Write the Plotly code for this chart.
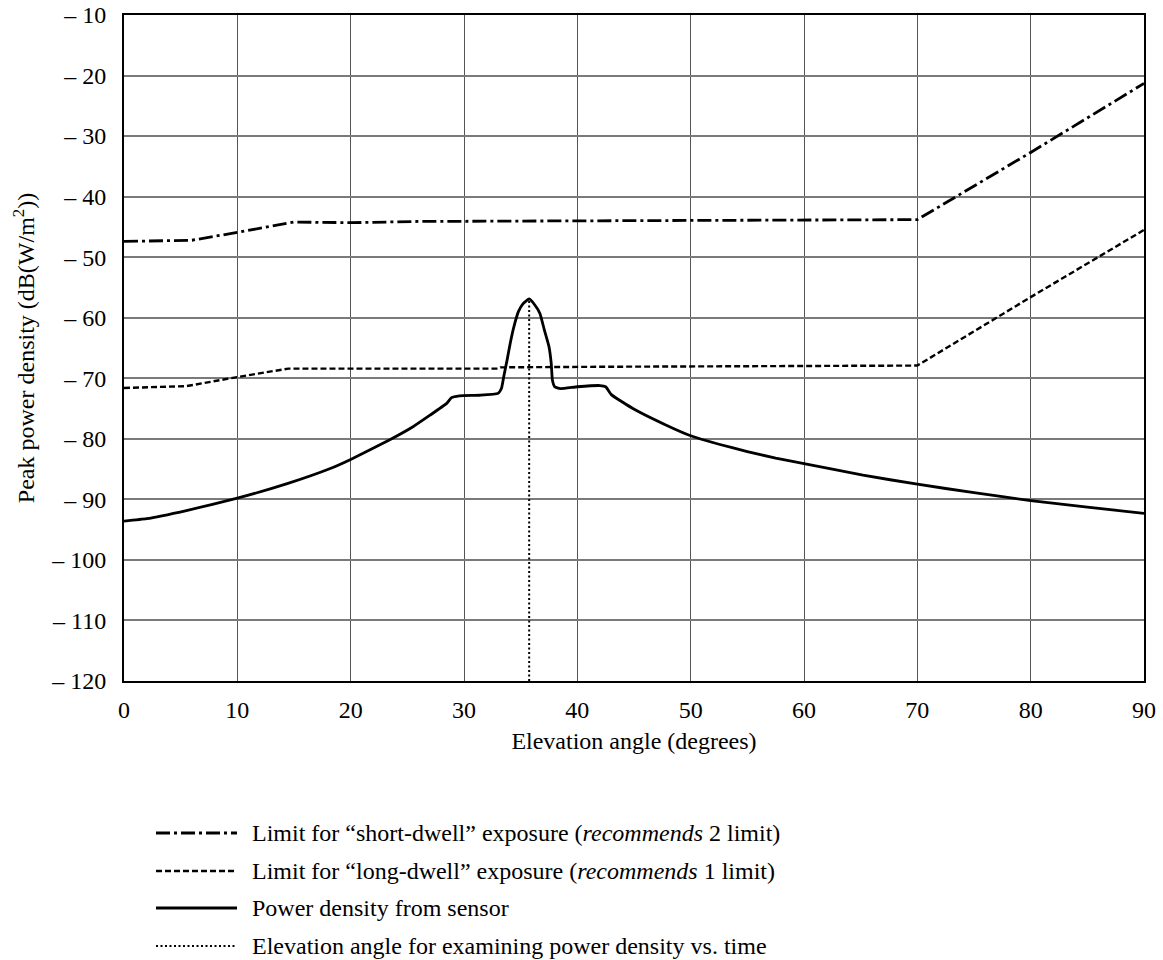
import plotly.graph_objects as go

# ---- data ----
short_x = [0, 6, 10, 15, 20, 26, 40, 55, 70, 80, 90]
short_y = [-47.4, -47.2, -45.9, -44.2, -44.3, -44.1, -44.0, -43.9, -43.8, -32.7, -21.3]

long_x = [0, 5.5, 10, 14.5, 33.0, 33.2, 42, 62, 70, 80, 90]
long_y = [-71.6, -71.3, -69.8, -68.4, -68.4, -68.2, -68.1, -68.0, -67.9, -56.6, -45.5]

sensor_x = [0, 2, 5.6, 10, 14.4, 18.2, 20, 23.5, 25.5, 27.0, 28.5, 28.9, 29.6, 31.4, 33.0,
            33.3, 33.5, 33.8, 34.1, 34.4, 34.8, 35.2, 35.75, 36.25, 36.7, 37.1, 37.5, 37.7,
            37.8, 38.0, 38.5, 40.0, 42.0, 42.5, 43.0, 44.9, 47.9, 50, 52.5, 55, 57.5, 60,
            65.2, 70, 75, 80, 85, 90]
sensor_y = [-93.6, -93.2, -91.8, -89.8, -87.4, -84.9, -83.4, -80.1, -78.0, -76.1, -74.1, -73.2,
            -72.9, -72.8, -72.5, -71.7, -69.8, -67.0, -64.0, -61.5, -59.0, -57.7, -56.9, -57.9,
            -59.3, -62.1, -64.8, -67.6, -70.3, -71.4, -71.7, -71.4, -71.2, -71.4, -72.7, -75.0,
            -77.8, -79.5, -80.9, -82.1, -83.2, -84.1, -86.0, -87.5, -88.9, -90.2, -91.3, -92.3]

exam_x = [35.75, 35.75]
exam_y = [-120, -56.9]

x_ticks = [0, 10, 20, 30, 40, 50, 60, 70, 80, 90]
y_ticks = [-10, -20, -30, -40, -50, -60, -70, -80, -90, -100, -110, -120]
y_ticktext = ["\u2013 " + str(-v) for v in y_ticks]

legend_labels = [
    "Limit for \u201cshort-dwell\u201d exposure (<i>recommends</i> 2 limit)",
    "Limit for \u201clong-dwell\u201d exposure (<i>recommends</i> 1 limit)",
    "Power density from sensor",
    "Elevation angle for examining power density vs. time",
]

FONT = "Liberation Serif, Times New Roman, serif"
FS = 24
styles = [
    dict(color="black", width=2.8, dash="14px,4px,3px,4px"),
    dict(color="black", width=2.4, dash="6px,3px"),
    dict(color="black", width=2.8, dash="solid"),
    dict(color="black", width=2.0, dash="2px,2.5px"),
]

fig = go.Figure()
fig.add_trace(go.Scatter(x=short_x, y=short_y, mode="lines", line=styles[0],
                         name=legend_labels[0], showlegend=False))
fig.add_trace(go.Scatter(x=long_x, y=long_y, mode="lines", line=styles[1],
                         name=legend_labels[1], showlegend=False))
fig.add_trace(go.Scatter(x=sensor_x, y=sensor_y, mode="lines",
                         line=dict(styles[2], shape="spline", smoothing=0.4),
                         name=legend_labels[2], showlegend=False))
fig.add_trace(go.Scatter(x=exam_x, y=exam_y, mode="lines", line=styles[3],
                         name=legend_labels[3], showlegend=False))

# custom legend (long line samples) in paper coordinates
L, R, T, B = 124, 1144, 15, 681
W, H = R - L, B - T
def px(xp):
    return (xp - L) / W
def py(yp):
    return (B - yp) / H

rows = [833, 871, 908, 946]
for st, lab, r in zip(styles, legend_labels, rows):
    fig.add_shape(type="line", xref="paper", yref="paper",
                  x0=px(156), x1=px(237), y0=py(r), y1=py(r),
                  line=dict(color=st["color"], width=st["width"], dash=st["dash"]))
    fig.add_annotation(xref="paper", yref="paper", x=px(250), y=py(r),
                       text=lab, showarrow=False, xanchor="left", yanchor="middle",
                       font=dict(family=FONT, size=FS, color="black"))

fig.update_layout(
    width=1163, height=960,
    margin=dict(l=L, r=1163 - R, t=T, b=960 - B, autoexpand=False),
    paper_bgcolor="white", plot_bgcolor="white",
    font=dict(family=FONT, size=FS, color="black"),
    showlegend=False,
)
fig.update_xaxes(
    range=[0, 90], tickvals=x_ticks, ticktext=[str(v) for v in x_ticks],
    tickfont=dict(family=FONT, size=FS),
    showgrid=True, gridcolor="#555555", gridwidth=1.2,
    showline=True, linecolor="black", linewidth=2, mirror=True,
    ticks="", ticklabelstandoff=6, zeroline=False, automargin=False,
    title=dict(text="Elevation angle (degrees)", standoff=10,
               font=dict(family=FONT, size=FS)),
)
fig.update_yaxes(
    range=[-120, -10], tickvals=y_ticks, ticktext=y_ticktext,
    tickfont=dict(family=FONT, size=FS),
    showgrid=True, gridcolor="#7a7a7a", gridwidth=1.6,
    showline=True, linecolor="black", linewidth=2, mirror=True,
    ticks="", ticklabelstandoff=11, zeroline=False, automargin=False,
    title=dict(text="Peak power density (dB(W/m<sup>2</sup>))", standoff=10,
               font=dict(family=FONT, size=FS)),
)

fig.write_html("out.html")
